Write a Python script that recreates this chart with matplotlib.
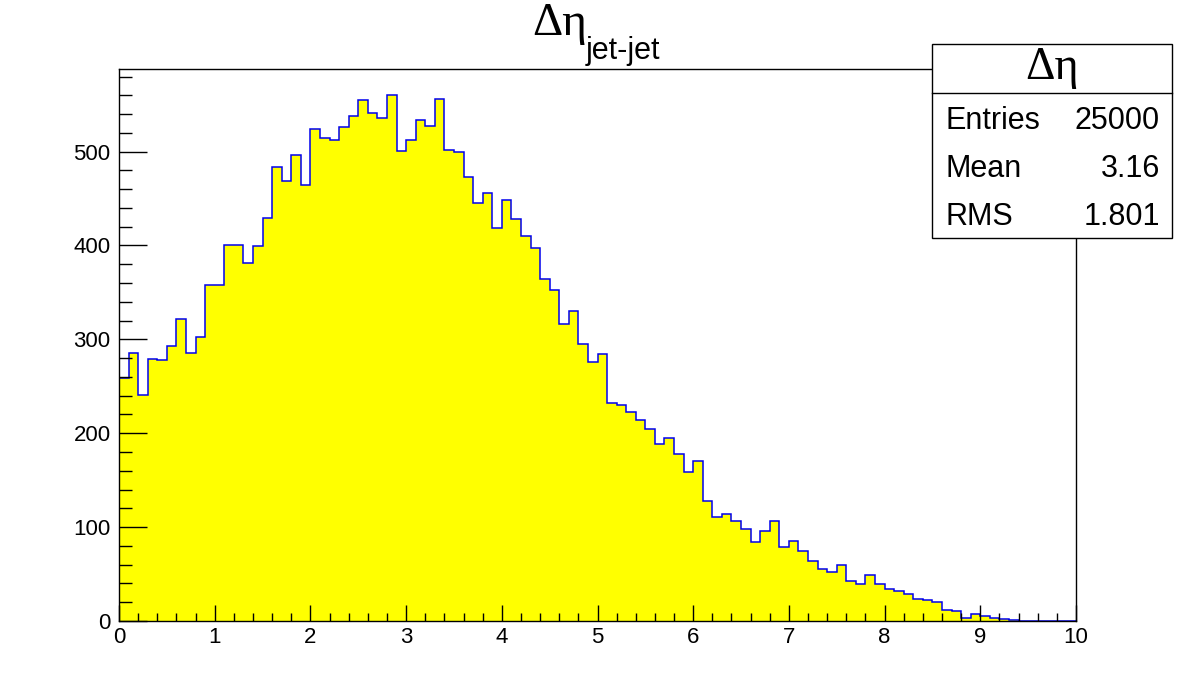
import matplotlib
matplotlib.use("Agg")
import matplotlib.pyplot as plt
from matplotlib.ticker import MultipleLocator
import numpy as np

# histogram content: 100 bins from 0 to 10
x_lo, x_hi, n_bins = 0.0, 10.0, 100
counts = [
    259, 286, 241, 279, 278, 293, 322, 286, 302, 358,
    358, 400, 401, 381, 399, 429, 484, 469, 496, 464,
    524, 514, 512, 526, 538, 555, 541, 536, 560, 501,
    512, 534, 527, 556, 502, 500, 473, 445, 456, 419,
    448, 428, 410, 397, 364, 353, 316, 330, 295, 276,
    284, 232, 230, 223, 214, 204, 189, 195, 178, 159,
    170, 128, 111, 114, 106, 98, 84, 96, 107, 79,
    85, 75, 64, 55, 52, 60, 43, 39, 49, 39,
    34, 32, 29, 23, 22, 20, 12, 11, 3, 7,
    5, 3, 2, 1, 0, 0, 0, 0, 0, 0,
]
edges = np.linspace(x_lo, x_hi, n_bins + 1)

title_main = "Δη"
title_sub = "jet-jet"
stats_title = "Δη"
stats_names = ["Entries", "Mean", "RMS"]
stats_values = ["25000", "3.16", "1.801"]

sans = ["Liberation Sans", "DejaVu Sans"]
serif = ["Liberation Serif", "DejaVu Serif"]

fig = plt.figure(figsize=(11.96, 6.90), dpi=100)
ax = fig.add_axes([119 / 1196, 69 / 690, (1076 - 119) / 1196, (621 - 69) / 690])

# filled histogram + blue outline
ax.stairs(counts, edges, fill=True, color="#ffff00", lw=0)
ax.stairs(counts, edges, color="#0000ee", lw=1.1)

ax.set_xlim(x_lo, x_hi)
ax.set_ylim(0, max(counts) * 1.05)

ax.xaxis.set_major_locator(MultipleLocator(1))
ax.xaxis.set_minor_locator(MultipleLocator(0.2))
ax.yaxis.set_major_locator(MultipleLocator(100))
ax.yaxis.set_minor_locator(MultipleLocator(20))
ax.tick_params(axis="both", which="both", direction="in", top=False, right=False,
               color="black", width=1)
# tick lengths in points (px * 0.72)
ax.tick_params(axis="x", which="major", length=11.5, pad=4)
ax.tick_params(axis="x", which="minor", length=5.8)
ax.tick_params(axis="y", which="major", length=20, pad=6)
ax.tick_params(axis="y", which="minor", length=9.4)
for lab in ax.get_xticklabels() + ax.get_yticklabels():
    lab.set_family(sans)
    lab.set_fontsize(16)
for sp in ax.spines.values():
    sp.set_linewidth(1)

# title
fig.text(532 / 1196, 1 - 35 / 690, title_main, family=serif, fontsize=34,
         ha="left", va="baseline")
fig.text(586 / 1196, 1 - 59 / 690, title_sub, family=sans, fontsize=22,
         ha="left", va="baseline")

# stats box
bx0, bx1, by0, by1, yh = 932, 1172, 44, 238, 93
fig.patches.append(plt.Rectangle((bx0 / 1196, 1 - by1 / 690), (bx1 - bx0) / 1196,
                                 (by1 - by0) / 690, transform=fig.transFigure,
                                 facecolor="white", edgecolor="black", lw=1, zorder=5))
fig.add_artist(plt.Line2D([bx0 / 1196, bx1 / 1196], [1 - yh / 690, 1 - yh / 690],
                          transform=fig.transFigure, color="black", lw=1, zorder=6))
fig.text((bx0 + bx1) / 2 / 1196, 1 - 68 / 690, stats_title, family=serif, fontsize=33,
         ha="center", va="center", zorder=7)
row_y = [121, 169, 217]
for name, val, yy in zip(stats_names, stats_values, row_y):
    fig.text(945 / 1196, 1 - yy / 690, name, family=sans, fontsize=22,
             ha="left", va="center", zorder=7)
    fig.text(1160 / 1196, 1 - yy / 690, val, family=sans, fontsize=22,
             ha="right", va="center", zorder=7)

fig.savefig("out.png", dpi=100)
